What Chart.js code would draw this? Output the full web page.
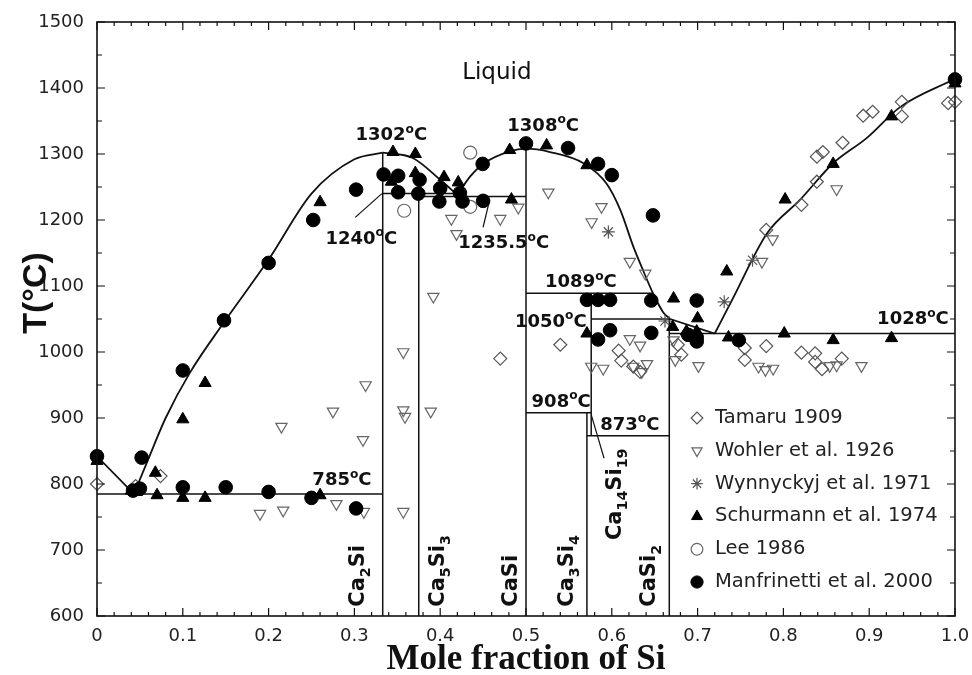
<!DOCTYPE html>
<html>
<head>
<meta charset="utf-8">
<script src="https://cdn.jsdelivr.net/npm/chart.js@4.4.0/dist/chart.umd.min.js"></script>
<style>
  html, body { margin: 0; padding: 0; background: #fff; }
  #wrap { width: 972px; height: 675px; }
</style>
</head>
<body>
<div id="wrap"><canvas id="chart" width="972" height="675"></canvas></div>
<script>
// axis ticks
const xTickValues = [0, 0.1, 0.2, 0.3, 0.4, 0.5, 0.6, 0.7, 0.8, 0.9, 1.0];
const xTickLabels = ['0', '0.1', '0.2', '0.3', '0.4', '0.5', '0.6', '0.7', '0.8', '0.9', '1.0'];
const yTickValues = [600, 700, 800, 900, 1000, 1100, 1200, 1300, 1400, 1500];
const yTickLabels = ['600', '700', '800', '900', '1000', '1100', '1200', '1300', '1400', '1500'];

// measured points [mole fraction Si, T degC]
const tamaru = [
  [0, 800], [0.045, 797], [0.074, 812], [0.47, 990], [0.54, 1011], [0.608, 1002], [0.611, 987],
  [0.625, 978], [0.633, 970], [0.677, 1011], [0.681, 996], [0.755, 1006], [0.755, 988],
  [0.78, 1009], [0.821, 999], [0.837, 998], [0.837, 985], [0.845, 974], [0.868, 990],
  [0.78, 1185], [0.821, 1223], [0.839, 1258], [0.839, 1296], [0.846, 1303], [0.869, 1317],
  [0.893, 1358], [0.904, 1364], [0.938, 1379], [0.938, 1357], [0.992, 1377], [1.0, 1379]
];
const wohler = [
  [0.19, 755], [0.217, 760], [0.279, 770], [0.311, 758], [0.357, 758], [0.31, 867], [0.313, 950],
  [0.275, 910], [0.215, 887], [0.357, 1000], [0.357, 912], [0.359, 902], [0.389, 910],
  [0.392, 1084], [0.413, 1202], [0.419, 1179], [0.47, 1202], [0.491, 1219], [0.526, 1242],
  [0.588, 1220], [0.5765, 1197], [0.621, 1137], [0.639, 1119], [0.576, 978], [0.59, 975],
  [0.621, 1020], [0.633, 1010], [0.625, 978], [0.635, 970], [0.641, 982], [0.672, 1018],
  [0.674, 988], [0.701, 979], [0.771, 978], [0.779, 973], [0.788, 975], [0.854, 979],
  [0.862, 980], [0.891, 979], [0.775, 1137], [0.7875, 1171], [0.862, 1247]
];
const wynnyckyj = [[0.596, 1182], [0.662, 1047], [0.731, 1076], [0.764, 1139]];
const schurmann = [
  [0, 835], [0.04, 790], [0.046, 788], [0.068, 817], [0.07, 783], [0.1, 779], [0.1, 898],
  [0.126, 779], [0.126, 953], [0.26, 783], [0.26, 1227], [0.345, 1303], [0.371, 1300],
  [0.343, 1258], [0.371, 1271], [0.4045, 1265], [0.421, 1257], [0.481, 1306], [0.483, 1231],
  [0.524, 1313], [0.571, 1283], [0.672, 1081], [0.734, 1122], [0.571, 1028], [0.671, 1038],
  [0.687, 1031], [0.7, 1051], [0.699, 1031], [0.736, 1022], [0.801, 1028], [0.858, 1018],
  [0.926, 1021], [0.802, 1231], [0.858, 1285], [0.926, 1357], [1.0, 1407]
];
const lee = [[0.435, 1302], [0.358, 1214], [0.435, 1220]];
const manfrinetti = [
  [0, 842], [0.042, 790], [0.05, 793], [0.052, 840], [0.1, 795], [0.1, 972], [0.148, 1048],
  [0.15, 795], [0.2, 788], [0.2, 1135], [0.25, 779], [0.252, 1200], [0.302, 763], [0.302, 1246],
  [0.334, 1269], [0.351, 1267], [0.351, 1242], [0.376, 1261], [0.3745, 1240], [0.4, 1248],
  [0.399, 1228], [0.423, 1241], [0.426, 1228], [0.4495, 1285], [0.45, 1229], [0.5, 1316],
  [0.549, 1309], [0.584, 1285], [0.6, 1268], [0.648, 1207], [0.571, 1079], [0.584, 1079],
  [0.598, 1079], [0.646, 1078], [0.699, 1078], [0.584, 1019], [0.598, 1033], [0.646, 1029],
  [0.689, 1026], [0.699, 1022], [0.699, 1016], [0.748, 1018], [1.0, 1413]
];

// liquidus curves
const liqCaSide = [[0, 842], [0.043, 785]];
const liqCa2Si = [[0.043, 785], [0.058, 832], [0.08, 900], [0.108, 968], [0.148, 1045], [0.2, 1140],
  [0.25, 1240], [0.3, 1292], [0.333, 1302]];
const liqCa2SiRight = [[0.333, 1302], [0.368, 1294], [0.4, 1261], [0.42, 1238]];
const liqCaSi = [[0.42, 1238], [0.435, 1266], [0.45, 1285], [0.481, 1304], [0.5, 1308], [0.528, 1303],
  [0.567, 1286], [0.594, 1255], [0.61, 1215], [0.625, 1160], [0.637, 1122], [0.648, 1089],
  [0.66, 1060], [0.668, 1050]];
const liqToEutectic = [[0.668, 1050], [0.72, 1028]];
const liqSi = [[0.72, 1028], [0.741, 1081], [0.781, 1180], [0.819, 1230], [0.858, 1286],
  [0.897, 1324], [0.936, 1371], [1.0, 1414]];

// invariant lines and compounds
const straightLines = [
  [[0, 785], [0.333, 785]],
  [[0.333, 1240], [0.42, 1240]],
  [[0.375, 1235.5], [0.5, 1235.5]],
  [[0.5, 1089], [0.648, 1089]],
  [[0.576, 1050], [0.668, 1050]],
  [[0.5, 908], [0.576, 908]],
  [[0.571, 873], [0.667, 873]],
  [[0.667, 1028], [1.0, 1028]],
  [[0.333, 600], [0.333, 1302]],
  [[0.375, 600], [0.375, 1240]],
  [[0.5, 600], [0.5, 1308]],
  [[0.571, 600], [0.571, 908]],
  [[0.576, 873], [0.576, 1089]],
  [[0.667, 600], [0.667, 1050]]
];
const leaderLines = [
  [[0.301, 1204], [0.332, 1240]],
  [[0.45, 1189], [0.457, 1227]],
  [[0.576, 905], [0.591, 839]]
];

// annotations: text, x, T at baseline (centre aligned)
const tempLabels = [
  ['1302^{o}C', 0.343, 1321], ['1308^{o}C', 0.52, 1335], ['1240^{o}C', 0.308, 1164],
  ['1235.5^{o}C', 0.474, 1157], ['1089^{o}C', 0.564, 1098], ['1050^{o}C', 0.529, 1038],
  ['908^{o}C', 0.541, 917], ['873^{o}C', 0.621, 882], ['785^{o}C', 0.2855, 798],
  ['1028^{o}C', 0.951, 1042]
];
// compounds: text, baseline x, start T (reads upwards)
const compoundLabels = [
  ['Ca_{2}Si', 0.3112, 614], ['Ca_{5}Si_{3}', 0.4044, 614], ['CaSi', 0.4895, 614],
  ['Ca_{3}Si_{4}', 0.5548, 614], ['Ca_{14}Si_{19}', 0.6107, 715], ['CaSi_{2}', 0.6503, 614]
];

const toXY = pts => pts.map(p => ({ x: p[0], y: p[1] }));

const markers = [
  { label: 'Tamaru 1909', data: tamaru, pointStyle: 'rectRot', radius: 6.5, color: '#555', filled: false, rotation: 0, order: 5 },
  { label: 'Wohler et al. 1926', data: wohler, pointStyle: 'triangle', radius: 6.5, color: '#666', filled: false, rotation: 180, order: 6 },
  { label: 'Wynnyckyj et al. 1971', data: wynnyckyj, pointStyle: 'star', radius: 6.5, color: '#555', filled: false, rotation: 0, order: 3 },
  { label: 'Schurmann et al. 1974', data: schurmann, pointStyle: 'triangle', radius: 7, color: '#000', filled: true, rotation: 0, order: 2 },
  { label: 'Lee 1986', data: lee, pointStyle: 'circle', radius: 6.5, color: '#666', filled: false, rotation: 0, order: 4 },
  { label: 'Manfrinetti et al. 2000', data: manfrinetti, pointStyle: 'circle', radius: 6.8, color: '#000', filled: true, rotation: 0, order: 1 }
];

const datasets = [];
markers.forEach(m => {
  datasets.push({
    label: m.label,
    data: toXY(m.data),
    pointStyle: m.pointStyle,
    pointRadius: m.radius,
    pointRotation: m.rotation,
    pointBorderColor: m.color,
    pointBackgroundColor: m.filled ? m.color : 'rgba(0,0,0,0)',
    pointBorderWidth: m.filled ? 1 : 1.2,
    showLine: false,
    clip: false,
    order: m.order
  });
});

function lineSet(pts, width, smooth) {
  return {
    data: toXY(pts),
    showLine: true,
    borderColor: '#111',
    borderWidth: width,
    pointRadius: 0,
    cubicInterpolationMode: smooth ? 'monotone' : 'default',
    tension: smooth ? 0.4 : 0,
    order: 10
  };
}
[liqCaSide, liqToEutectic].forEach(p => datasets.push(lineSet(p, 1.8, false)));
[liqCa2Si, liqCa2SiRight, liqCaSi, liqSi].forEach(p => datasets.push(lineSet(p, 1.8, true)));
straightLines.forEach(p => datasets.push(lineSet(p, 1.5, false)));
leaderLines.forEach(p => datasets.push(lineSet(p, 1.2, false)));

function richParts(str) {
  const parts = [];
  const re = /([_^])\{([^}]*)\}|([^_^]+)/g;
  let m;
  while ((m = re.exec(str)) !== null) {
    if (m[3]) parts.push({ t: m[3], shift: 0 });
    else parts.push({ t: m[2], shift: m[1] === '_' ? 1 : -1 });
  }
  return parts;
}

function drawRich(ctx, str, x, y, size, weight, align) {
  const parts = richParts(str);
  let total = 0;
  parts.forEach(p => {
    p.size = p.shift ? size * 0.68 : size;
    ctx.font = weight + ' ' + p.size + 'px "DejaVu Sans"';
    p.w = ctx.measureText(p.t).width;
    total += p.w;
  });
  let cx = align === 'center' ? x - total / 2 : x;
  ctx.textAlign = 'left';
  ctx.textBaseline = 'alphabetic';
  parts.forEach(p => {
    ctx.font = weight + ' ' + p.size + 'px "DejaVu Sans"';
    const dy = p.shift === 1 ? size * 0.3 : (p.shift === -1 ? -size * 0.42 : 0);
    ctx.fillText(p.t, cx, y + dy);
    cx += p.w;
  });
}

const decor = {
  id: 'decor',
  afterDatasetsDraw(chart) {
    const { ctx, chartArea: a, scales: { x, y } } = chart;
    ctx.save();
    ctx.fillStyle = '#111';

    // Liquid
    ctx.font = '23px "DejaVu Sans"';
    ctx.textAlign = 'center';
    ctx.textBaseline = 'alphabetic';
    ctx.fillText('Liquid', x.getPixelForValue(0.466), y.getPixelForValue(1413));

    tempLabels.forEach(l => {
      drawRich(ctx, l[0], x.getPixelForValue(l[1]), y.getPixelForValue(l[2]), 18, 'bold', 'center');
    });

    compoundLabels.forEach(l => {
      ctx.save();
      ctx.translate(x.getPixelForValue(l[1]), y.getPixelForValue(l[2]));
      ctx.rotate(-Math.PI / 2);
      drawRich(ctx, l[0], 0, 0, 21, 'bold', 'left');
      ctx.restore();
    });

    // axis titles
    ctx.save();
    ctx.translate(37, 293);
    ctx.rotate(-Math.PI / 2);
    ctx.font = 'bold 34px "Liberation Sans"';
    ctx.textAlign = 'center';
    ctx.textBaseline = 'middle';
    ctx.fillText('T(°C)', 0, 0);
    ctx.restore();
    ctx.font = 'bold 35px "Liberation Serif"';
    ctx.textAlign = 'center';
    ctx.textBaseline = 'middle';
    ctx.fillText('Mole fraction of Si', (a.left + a.right) / 2, 660);

    // legend
    const lx = a.left + 600, ly0 = a.top + 396, dy = 32.8;
    markers.forEach((m, i) => {
      const yy = ly0 + i * dy;
      ctx.strokeStyle = m.color;
      ctx.fillStyle = m.filled ? m.color : 'rgba(0,0,0,0)';
      ctx.lineWidth = m.filled ? 1 : 1.2;
      Chart.helpers.drawPoint(ctx, {
        pointStyle: m.pointStyle, radius: m.radius * 0.9, rotation: m.rotation, borderWidth: ctx.lineWidth
      }, lx, yy);
      ctx.fillStyle = '#222';
      ctx.font = '19.5px "DejaVu Sans"';
      ctx.textAlign = 'left';
      ctx.textBaseline = 'middle';
      ctx.fillText(m.label, lx + 18, yy);
    });

    // frame and inward ticks
    ctx.strokeStyle = '#111';
    ctx.lineWidth = 1.6;
    ctx.strokeRect(a.left, a.top, a.right - a.left, a.bottom - a.top);
    ctx.lineWidth = 1.2;
    ctx.beginPath();
    for (let i = 0; i <= 50; i++) {
      const px = x.getPixelForValue(i / 50);
      const len = i % 5 === 0 ? 8 : 4;
      ctx.moveTo(px, a.bottom); ctx.lineTo(px, a.bottom - len);
      ctx.moveTo(px, a.top); ctx.lineTo(px, a.top + len);
    }
    for (let t = 600; t <= 1500; t += 50) {
      const py = y.getPixelForValue(t);
      const len = t % 100 === 0 ? 8 : 5;
      ctx.moveTo(a.left, py); ctx.lineTo(a.left + len, py);
      ctx.moveTo(a.right, py); ctx.lineTo(a.right - len, py);
    }
    ctx.stroke();
    ctx.restore();
  }
};

new Chart(document.getElementById('chart'), {
  type: 'scatter',
  data: { datasets: datasets },
  options: {
    responsive: false,
    animation: false,
    events: [],
    layout: { padding: { left: 0, right: 17, top: 22, bottom: 0 } },
    plugins: { legend: { display: false }, tooltip: { enabled: false } },
    scales: {
      x: {
        type: 'linear', min: 0, max: 1,
        grid: { display: false, drawTicks: false },
        border: { display: false },
        afterBuildTicks: s => { s.ticks = xTickValues.map(v => ({ value: v })); },
        afterFit: s => { s.height = 59; s.paddingLeft = 0; s.paddingRight = 0; },
        ticks: {
          padding: 10, color: '#222', maxRotation: 0, autoSkip: false,
          font: { family: 'DejaVu Sans', size: 18 },
          callback: (v, i) => xTickLabels[i]
        }
      },
      y: {
        type: 'linear', min: 600, max: 1500,
        grid: { display: false, drawTicks: false },
        border: { display: false },
        afterBuildTicks: s => { s.ticks = yTickValues.map(v => ({ value: v })); },
        afterFit: s => { s.width = 97; s.paddingTop = 0; s.paddingBottom = 0; },
        ticks: {
          padding: 13, color: '#222', autoSkip: false,
          font: { family: 'DejaVu Sans', size: 18 },
          callback: (v, i) => yTickLabels[i]
        }
      }
    }
  },
  plugins: [decor]
});
</script>
</body>
</html>
